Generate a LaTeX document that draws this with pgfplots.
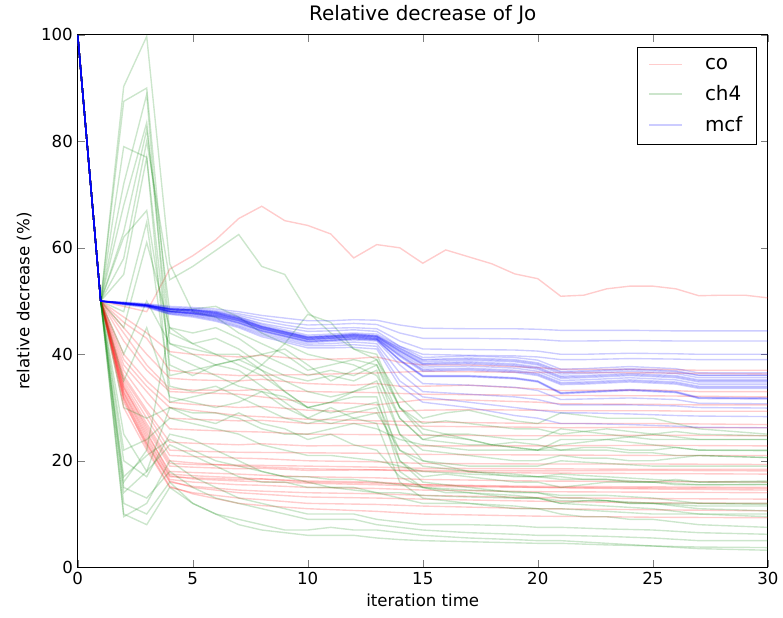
\documentclass[border=0pt]{standalone}
\usepackage{fontspec}
\setmainfont{DejaVu Sans}
\usepackage{pgfplots}
\pgfplotsset{compat=1.18}
\pgfplotsset{
  co/.style={color=red, opacity=0.2, line width=1pt, mark=none},
  ch/.style={color=green!50!black, opacity=0.2, line width=1pt, mark=none},
  mc/.style={color=blue, opacity=0.2, line width=1pt, mark=none},
}
\begin{document}
\begin{tikzpicture}
\begin{axis}[
  scale only axis, width=499pt, height=385pt,
  xmin=0, xmax=30, ymin=0, ymax=100,
  xtick={0,5,...,30}, ytick={0,20,...,100},
  tick align=inside, major tick length=5pt,
  /pgf/number format/assume math mode=true,
  tick label style={font=\fontsize{12}{14}\selectfont},
  title={Relative decrease of Jo},
  title style={font=\fontsize{14.4}{17}\selectfont, yshift=-2pt},
  xlabel={iteration time}, ylabel={relative decrease (\%)},
  label style={font=\fontsize{12}{14}\selectfont},
  axis line style={line width=0.8pt},
  legend style={at={(0.984,0.978)}, anchor=north east, draw=black, line width=0.8pt,
    font=\fontsize{14.4}{17}\selectfont, inner xsep=8pt, inner ysep=6pt, row sep=6pt, column sep=14pt},
  legend cell align=left,
  legend image code/.code={\draw[#1] (0pt,0pt) -- (24pt,0pt);},
]
\coordinate (bl) at (rel axis cs:-0.1126,-0.0935);
\coordinate (tr) at (rel axis cs:1.0173,1.0654);

% co
\addplot[co] coordinates {(0,100)(1,50)(2,49)(3,48)(4,56)(5,58.5)(6,61.5)(7,65.5)(8,67.8)(9,65.1)(10,64.2)(11,62.6)(12,58.1)(13,60.6)(14,60)(15,57.1)(16,59.6)(17,58.3)(18,57)(19,55.1)(20,54.2)(21,50.9)(22,51.1)(23,52.3)(24,52.8)(25,52.8)(26,52.3)(27,51)(28,51.1)(29,51.1)(30,50.6)};
\addlegendentry{co}
\addplot[co,forget plot] coordinates {(0,100)(1,50)(2,47)(3,44)(4,40.5)(5,40)(7,39.5)(8,39.8)(10,39)(12,39.2)(13,39.5)(14,38.5)(15,38)(17,38)(20,37.5)(21,37.2)(25,37.2)(27,37)(30,37)};
\addplot[co,forget plot] coordinates {(0,100)(1,50)(2,45)(3,40)(4,35.5)(5,35.2)(7,35)(8,35.3)(10,34.5)(12,34.2)(13,34.5)(14,34)(15,34)(17,34.2)(20,33.5)(21,33.2)(25,33.3)(27,33)(30,33)};
\addplot[co,forget plot] coordinates {(0,100)(1,50)(2,44)(3,38)(4,33.5)(5,33.3)(7,33.2)(8,33.4)(10,33)(13,32.8)(15,32.5)(20,32.3)(25,32.2)(30,32)};
\addplot[co,forget plot] coordinates {(0,100)(1,50)(2,42.5)(3,37)(4,33)(5,32.8)(7,32.5)(8,32)(10,31)(12,30.8)(13,30.5)(14,31)(15,31.5)(17,31.4)(20,31)(21,30.7)(25,30.6)(27,30.5)(30,30.5)};
\addplot[co,forget plot] coordinates {(0,100)(1,50)(2,40)(3,35)(4,31)(5,30.6)(7,30)(8,30.2)(10,29.5)(12,29.2)(13,29)(14,29.3)(15,29.5)(17,29.6)(20,29.5)(21,29.4)(25,29.4)(27,29.3)(30,29.3)};
\addplot[co,forget plot] coordinates {(0,100)(1,50)(2,38)(3,33)(4,28)(5,27.8)(7,27.5)(8,27.6)(10,27)(12,27)(13,27)(14,26.7)(15,26.5)(17,26.4)(20,26.3)(21,26.2)(25,26.3)(27,26.2)(30,26.2)};
\addplot[co,forget plot] coordinates {(0,100)(1,50)(2,37)(3,31)(4,26)(5,25.8)(7,25.5)(8,25.4)(10,25)(13,24.9)(15,24.8)(20,24.7)(25,24.8)(30,24.7)};
\addplot[co,forget plot] coordinates {(0,100)(1,50)(2,36)(3,29.5)(4,23.5)(5,23.3)(7,23)(8,23.2)(10,22.8)(13,22.9)(15,22.8)(20,22.8)(25,22.9)(30,22.8)};
\addplot[co,forget plot] coordinates {(0,100)(1,50)(2,35.5)(3,29)(4,22)(5,21.8)(7,21.6)(10,21.5)(13,21.4)(15,21.2)(20,21.1)(25,21)(30,21)};
\addplot[co,forget plot] coordinates {(0,100)(1,50)(2,35)(3,28)(4,21)(5,20.8)(7,20.5)(8,20.4)(10,20)(13,19.8)(15,19.5)(20,19.4)(25,19.4)(30,19.3)};
\addplot[co,forget plot] coordinates {(0,100)(1,50)(2,34)(3,26)(4,19)(5,18.8)(7,18.5)(8,18.6)(10,18.2)(13,18.3)(15,18.2)(20,18.1)(25,18.2)(30,18.1)};
\addplot[co,forget plot] coordinates {(0,100)(1,50)(2,33.8)(3,26.5)(4,19.5)(5,19.3)(7,19.2)(10,19)(13,18.8)(15,18.6)(20,18.5)(25,18.4)(30,18.4)};
\addplot[co,forget plot] coordinates {(0,100)(1,50)(2,33)(3,25)(4,18)(5,17.8)(7,17.5)(8,17.3)(10,17)(13,16.8)(15,16.5)(20,16.2)(25,16.1)(30,16)};
\addplot[co,forget plot] coordinates {(0,100)(1,50)(2,32.5)(3,24)(4,17)(5,16.8)(7,16.5)(8,16.6)(10,16)(13,15.8)(15,15.5)(20,15.2)(25,15.1)(30,15)};
\addplot[co,forget plot] coordinates {(0,100)(1,50)(2,32.8)(3,24.5)(4,17.2)(5,16.6)(7,16.2)(10,15.8)(13,15.5)(15,15.2)(20,15)(25,14.9)(30,14.8)};
\addplot[co,forget plot] coordinates {(0,100)(1,50)(2,32)(3,23.5)(4,16.5)(5,16)(7,15.5)(8,15.4)(10,15)(13,14.8)(15,14.5)(20,14.2)(25,14.1)(30,14)};
\addplot[co,forget plot] coordinates {(0,100)(1,50)(2,31)(3,23)(4,16)(5,15.2)(7,14.5)(8,14.3)(10,14)(13,13.8)(15,13.5)(20,13.1)(25,12.9)(30,12.8)};
\addplot[co,forget plot] coordinates {(0,100)(1,50)(2,31.8)(3,23.2)(4,16.2)(5,15)(7,14)(10,13.2)(13,13)(15,12.8)(20,12.4)(25,12.1)(30,12)};
\addplot[co,forget plot] coordinates {(0,100)(1,50)(2,30)(3,22)(4,15)(5,14)(7,13)(8,12.7)(10,12)(13,11.8)(15,11.5)(20,11)(25,10.8)(30,10.6)};
\addplot[co,forget plot] coordinates {(0,100)(1,50)(2,31.5)(3,22.5)(4,15.2)(5,13.8)(7,12)(8,11.6)(10,11)(13,10.5)(15,10)(20,9.6)(25,9.4)(30,9.3)};
\addplot[co,forget plot] coordinates {(0,100)(1,50)(2,33.5)(3,25.5)(4,17.5)(5,17.2)(7,16.8)(10,16.2)(13,16)(15,15.5)(20,15)(25,14.7)(30,14.5)};
\addplot[co,forget plot] coordinates {(0,100)(1,50)(2,34.5)(3,27)(4,20)(5,19.6)(7,19)(10,18.5)(13,18.3)(15,18)(20,17.7)(25,17.6)(30,17.5)};
\addplot[co,forget plot] coordinates {(0,100)(1,50)(2,46)(3,43)(4,37)(5,36.5)(7,36)(10,36.2)(13,36.5)(15,36.8)(20,36.6)(25,36.5)(30,36.3)};
\addplot[co,forget plot] coordinates {(0,100)(1,50)(2,39)(3,34)(4,30)(7,28.5)(10,27.8)(13,27.5)(15,27.3)(20,27)(25,27)(30,26.8)};

% ch4
\addplot[ch] coordinates {(0,100)(1,50)(2,90.3)(3,99.7)(4,57)(5,48)(6,47)(7,44)(8,42)(9,40)(10,37)(11,38)(12,39)(13,38)(14,30)(15,25)(16,24.5)(17,24)(18,23)(19,22.5)(20,22)(21,23)(22,23.5)(23,24)(24,24.5)(25,25)(26,24.5)(27,24)(30,24)};
\addlegendentry{ch4}
\addplot[ch,forget plot] coordinates {(0,100)(1,50)(2,87.5)(3,90)(4,44)(5,42)(6,43)(7,41)(8,38)(9,36)(10,35)(11,36)(12,35)(13,37)(14,25)(15,22)(16,21.5)(17,21)(18,20.5)(19,20)(20,20)(21,21)(22,20.5)(23,20.5)(24,20)(25,20)(26,20.5)(27,21)(30,20.6)};
\addplot[ch,forget plot] coordinates {(0,100)(1,50)(2,72)(3,88.8)(4,36)(5,37)(6,38)(7,39)(8,37)(9,35)(10,33)(11,32)(12,33)(13,34)(14,20)(15,17)(16,17.5)(17,17)(18,16.5)(19,16)(20,16)(21,15)(22,15.5)(23,16)(24,16)(25,16)(26,16.5)(27,16)(30,16.2)};
\addplot[ch,forget plot] coordinates {(0,100)(1,50)(2,79)(3,77)(4,31)(5,32)(6,33)(7,35)(8,38)(9,42)(10,47.5)(11,46)(12,41)(13,39)(14,30)(15,27)(16,27.5)(17,27)(18,26.5)(19,26)(20,26)(21,25)(22,25.5)(23,26)(24,25.5)(25,25)(26,25.5)(27,25)(30,24.7)};
\addplot[ch,forget plot] coordinates {(0,100)(1,50)(2,68)(3,83.5)(4,42)(5,41)(6,40)(7,40)(8,37)(9,33)(10,30)(11,31)(12,32)(13,32)(14,18)(15,15)(16,14.5)(17,14)(18,13.5)(19,13)(20,13)(21,12)(22,12.5)(23,12.5)(24,12)(25,12)(26,12)(27,12)(30,11.8)};
\addplot[ch,forget plot] coordinates {(0,100)(1,50)(2,63)(3,82.2)(4,48)(5,48.5)(6,49)(7,47)(8,44)(9,42)(10,40)(11,39)(12,38)(13,36)(14,28)(15,24)(16,23.5)(17,23)(18,23)(19,23.5)(20,23)(21,22)(22,22.5)(23,22.5)(24,22)(25,22)(26,22.5)(27,22)(30,21.9)};
\addplot[ch,forget plot] coordinates {(0,100)(1,50)(2,62)(3,67)(4,40)(5,38)(6,36)(7,34)(8,33)(9,32)(10,30)(11,29)(12,30)(13,31)(14,22)(15,19)(16,18.5)(17,18)(18,17.5)(19,17)(20,17)(21,17)(22,16.5)(23,16.5)(24,16)(25,16)(26,15.5)(27,15.5)(30,15.6)};
\addplot[ch,forget plot] coordinates {(0,100)(1,50)(2,48)(3,64.8)(4,34)(5,33)(6,34)(7,32)(8,30)(9,28)(10,27)(11,28)(12,29)(13,30)(14,20)(15,16)(16,15.5)(17,15)(18,14.5)(19,14)(20,14)(21,13)(22,13)(23,12.5)(24,12)(25,12)(26,11.5)(27,11)(30,10.6)};
\addplot[ch,forget plot] coordinates {(0,100)(1,50)(2,45)(3,61)(4,45)(5,44)(6,45)(7,43)(8,40)(9,41)(10,38)(11,35)(12,37)(13,39)(14,32)(15,28)(16,29)(17,29.5)(18,28.5)(19,27.5)(20,27)(21,29)(22,28.5)(23,28)(24,28)(25,28)(26,27)(27,26)(30,25)};
\addplot[ch,forget plot] coordinates {(0,100)(1,50)(2,55)(3,77)(4,38)(5,36)(6,38)(7,37)(8,34)(9,31)(10,28)(11,30)(12,28)(13,27)(14,16)(15,13)(16,12.5)(17,12)(18,11.5)(19,11)(20,11)(21,10)(22,9.5)(23,9.5)(24,9)(25,9)(26,8.5)(27,8)(30,7.5)};
\addplot[ch,forget plot] coordinates {(0,100)(1,50)(2,58)(3,80)(4,54)(5,56.5)(6,59.5)(7,62.5)(8,56.5)(9,55)(10,48)(11,44)(12,41)(13,40)(14,30)(15,26)(16,25)(17,24)(18,23)(19,22.5)(20,22)(21,22)(22,22)(23,22)(24,21.5)(25,21.5)(26,21)(27,21)(30,20.6)};
\addplot[ch,forget plot] coordinates {(0,100)(1,50)(2,20)(3,17)(4,25)(5,24)(6,22)(7,20)(8,18)(9,17)(10,16)(11,15)(12,15)(13,14)(14,13)(15,12)(17,12)(19,11.5)(20,11)(21,11)(23,10.5)(25,10)(27,10)(30,10)};
\addplot[ch,forget plot] coordinates {(0,100)(1,50)(2,15)(3,13)(4,18)(5,15)(6,13)(7,12)(8,11)(9,10)(10,9)(11,9)(12,9)(13,8)(14,7.5)(15,7)(17,6.5)(19,6.2)(20,6)(21,6)(23,5.8)(25,5.5)(27,5)(30,5)};
\addplot[ch,forget plot] coordinates {(0,100)(1,50)(2,12)(3,10)(4,16)(5,12)(6,10)(7,9)(8,8)(9,7)(10,7)(11,7.5)(12,7)(13,7)(14,6.5)(15,6)(17,5.5)(19,5.2)(20,5)(21,5)(23,4.5)(25,4)(27,3.5)(30,3.2)};
\addplot[ch,forget plot] coordinates {(0,100)(1,50)(2,9.5)(3,12)(4,20)(5,17)(6,15)(7,13)(8,12)(9,11)(10,10)(11,10)(12,10)(13,9)(14,8.5)(15,8)(17,8)(19,7.8)(20,7.5)(21,7.5)(23,7.2)(25,7)(27,6.5)(30,6.2)};
\addplot[ch,forget plot] coordinates {(0,100)(1,50)(2,17)(3,21)(4,24)(5,22)(6,20)(7,19)(8,18)(9,17)(10,17)(11,16.5)(12,16.5)(13,16)(14,15.5)(15,15)(17,14.5)(19,14.2)(20,14)(21,13.5)(23,13.5)(25,13)(27,12)(30,12)};
\addplot[ch,forget plot] coordinates {(0,100)(1,50)(2,22)(3,24)(4,28)(5,27)(6,26)(7,25)(8,23)(9,22)(10,21)(11,21)(12,20.5)(13,20)(14,19)(15,18)(17,17.5)(19,17.2)(20,17)(21,16.5)(23,16.5)(25,16)(27,15.5)(30,15.5)};
\addplot[ch,forget plot] coordinates {(0,100)(1,50)(2,10)(3,8)(4,15)(5,12)(6,10)(7,8)(8,7)(9,6.5)(10,6)(11,6)(12,6)(13,5.5)(14,5.2)(15,5)(17,4.8)(19,4.6)(20,4.5)(21,4.5)(23,4.2)(25,4)(27,3.8)(30,3.7)};
\addplot[ch,forget plot] coordinates {(0,100)(1,50)(2,14)(3,18)(4,23)(5,21)(6,19)(7,17)(8,16)(9,16)(10,15)(11,15)(12,14.5)(13,14)(14,14)(15,13.5)(17,13.2)(19,13)(20,13)(21,12.5)(23,12.5)(25,12)(27,11.5)(30,11.5)};
\addplot[ch,forget plot] coordinates {(0,100)(1,50)(2,35)(3,45)(4,32)(5,31)(6,30)(7,31)(8,33)(9,30)(10,28)(11,27)(12,28)(13,29)(14,22)(15,20)(16,19.5)(17,19)(18,19)(19,19)(20,19)(21,20)(23,19.5)(25,19)(27,19)(30,19)};
\addplot[ch,forget plot] coordinates {(0,100)(1,50)(2,30)(3,28)(4,30)(5,29)(6,29)(7,28)(8,26)(9,25)(10,25)(11,26)(12,27)(13,26)(14,24)(15,23)(16,22.5)(17,22)(18,22)(19,22)(20,22)(21,24)(22,24)(23,24)(24,23.5)(25,23)(27,22)(30,22)};
\addplot[ch,forget plot] coordinates {(0,100)(1,50)(2,40)(3,50)(4,42)(5,40)(6,38)(7,39)(8,40)(9,38)(10,36)(11,37)(12,36)(13,38)(14,28)(15,24)(16,25)(17,25)(18,24.5)(19,24)(20,24)(21,26)(22,25.5)(23,25)(24,24.5)(25,24)(27,24)(30,24)};
\addplot[ch,forget plot] coordinates {(0,100)(1,50)(2,25)(3,18)(4,30)(5,28)(6,27)(7,29)(8,27)(9,26)(10,24)(11,25)(12,23)(13,22)(14,17)(15,15)(16,14)(17,14)(19,13.5)(20,13)(21,12)(23,11.5)(25,11)(27,10)(30,9.5)};
\addplot[ch,forget plot] coordinates {(0,100)(1,50)(2,16)(3,22)(4,45)(5,42)(6,40)(7,38)(8,36)(9,33)(10,30)(11,31)(12,33)(13,35)(14,25)(15,20)(16,19)(17,18)(19,17.5)(20,17)(21,17.5)(23,17)(25,16.5)(27,16)(30,16)};

% mcf
\addplot[mc] coordinates {(0,100)(1,50)(2,49.8)(3,49.5)(4,49)(5,48.8)(6,48.5)(7,48)(8,47.3)(9,46.8)(10,46.3)(11,46.3)(12,46.5)(13,46.4)(14,45.5)(15,44.9)(17,44.8)(19,44.8)(20,44.7)(21,44.5)(22,44.5)(24,44.5)(26,44.4)(27,44.4)(30,44.4)};
\addlegendentry{mcf}
\addplot[mc,forget plot] coordinates {(0,100)(1,50)(2,49.7)(3,49.4)(4,48.8)(5,48.6)(6,48.2)(7,47.6)(8,46.8)(9,46)(10,45.5)(11,45.6)(12,45.8)(13,45.6)(14,44)(15,43)(17,43)(19,42.9)(20,42.8)(21,42.5)(22,42.5)(24,42.6)(26,42.5)(27,42.5)(30,42.5)};
\addplot[mc,forget plot] coordinates {(0,100)(1,50)(2,49.7)(3,49.3)(4,48.6)(5,48.4)(6,48)(7,47.3)(8,46.3)(9,45.5)(10,44.8)(11,44.9)(12,45)(13,44.8)(14,42.5)(15,41)(17,40.9)(19,40.8)(20,40.6)(21,40)(22,40)(24,40.2)(26,40.1)(27,40)(30,40)};
\addplot[mc,forget plot] coordinates {(0,100)(1,50)(2,49.6)(3,49.3)(4,48.5)(5,48.3)(6,47.9)(7,47)(8,45.8)(9,45)(10,44.3)(11,44.4)(12,44.6)(13,44.3)(14,41.5)(15,40)(17,39.8)(19,39.7)(20,39.5)(21,39)(22,39)(24,39.2)(26,39.1)(27,39)(30,39)};
\addplot[mc,forget plot] coordinates {(0,100)(1,50)(2,49.7)(3,49.3)(4,48.6)(5,48.4)(6,48)(7,47)(8,45.6)(9,44.6)(10,43.6)(11,43.8)(12,44)(13,43.8)(14,41.5)(15,39.4)(17,39.7)(19,39.4)(20,38.9)(21,37.2)(22,37.3)(24,37.7)(26,37.3)(27,36.5)(30,36.5)};
\addplot[mc,forget plot] coordinates {(0,100)(1,50)(2,49.6)(3,49.2)(4,48.5)(5,48.3)(6,47.8)(7,46.8)(8,45.3)(9,44.3)(10,43.3)(11,43.5)(12,43.8)(13,43.5)(14,41.2)(15,39)(17,39.3)(19,39)(20,38.4)(21,36.8)(22,36.9)(24,37.3)(26,36.9)(27,36.1)(30,36.1)};
\addplot[mc,forget plot] coordinates {(0,100)(1,50)(2,49.6)(3,49.2)(4,48.5)(5,48.3)(6,47.8)(7,46.8)(8,45.3)(9,44.3)(10,43.3)(11,43.5)(12,43.8)(13,43.5)(14,41.1)(15,38.9)(17,39.1)(19,38.8)(20,38.2)(21,36.6)(22,36.7)(24,37.1)(26,36.7)(27,36)(30,36)};
\addplot[mc,forget plot] coordinates {(0,100)(1,50)(2,49.6)(3,49.2)(4,48.5)(5,48.2)(6,47.7)(7,46.7)(8,45.2)(9,44.2)(10,43.2)(11,43.4)(12,43.7)(13,43.4)(14,40.9)(15,38.6)(17,38.9)(19,38.6)(20,38)(21,36.3)(22,36.4)(24,36.8)(26,36.4)(27,35.6)(30,35.6)};
\addplot[mc,forget plot] coordinates {(0,100)(1,50)(2,49.6)(3,49.2)(4,48.4)(5,48.1)(6,47.6)(7,46.6)(8,45.1)(9,44.1)(10,43.1)(11,43.3)(12,43.6)(13,43.3)(14,40.7)(15,38.3)(17,38.6)(19,38.2)(20,37.6)(21,35.9)(22,36)(24,36.4)(26,36)(27,35.2)(30,35.2)};
\addplot[mc,forget plot] coordinates {(0,100)(1,50)(2,49.6)(3,49.2)(4,48.4)(5,48.1)(6,47.6)(7,46.6)(8,45.1)(9,44.1)(10,43.1)(11,43.3)(12,43.5)(13,43.3)(14,40.6)(15,38.2)(17,38.4)(19,38)(20,37.4)(21,35.7)(22,35.8)(24,36.2)(26,35.8)(27,35)(30,35)};
\addplot[mc,forget plot] coordinates {(0,100)(1,50)(2,49.6)(3,49.2)(4,48.3)(5,48)(6,47.5)(7,46.5)(8,45)(9,44)(10,43)(11,43.2)(12,43.5)(13,43.2)(14,40.5)(15,38)(17,38.2)(19,37.8)(20,37.2)(21,35.5)(22,35.6)(24,36)(26,35.6)(27,34.8)(30,34.8)};
\addplot[mc,forget plot] coordinates {(0,100)(1,50)(2,49.6)(3,49.2)(4,48.2)(5,47.9)(6,47.4)(7,46.4)(8,44.9)(9,43.9)(10,42.9)(11,43.1)(12,43.4)(13,43.1)(14,40.2)(15,37.6)(17,37.8)(19,37.4)(20,36.8)(21,35.1)(22,35.2)(24,35.6)(26,35.2)(27,34.4)(30,34.4)};
\addplot[mc,forget plot] coordinates {(0,100)(1,50)(2,49.5)(3,49.1)(4,48.1)(5,47.8)(6,47.3)(7,46.3)(8,44.8)(9,43.8)(10,42.8)(11,43)(12,43.3)(13,43)(14,39.9)(15,37.2)(17,37.4)(19,37)(20,36.4)(21,34.7)(22,34.8)(24,35.2)(26,34.8)(27,34)(30,34)};
\addplot[mc,forget plot] coordinates {(0,100)(1,50)(2,49.5)(3,49.1)(4,48.1)(5,47.8)(6,47.3)(7,46.3)(8,44.8)(9,43.8)(10,42.8)(11,43)(12,43.2)(13,42.9)(14,39.8)(15,37)(17,37.2)(19,36.8)(20,36.2)(21,34.5)(22,34.6)(24,35)(26,34.6)(27,33.8)(30,33.8)};
\addplot[mc,forget plot] coordinates {(0,100)(1,50)(2,49.5)(3,49.1)(4,48)(5,47.7)(6,47.2)(7,46.2)(8,44.7)(9,43.7)(10,42.7)(11,42.9)(12,43.2)(13,42.9)(14,39.6)(15,36.8)(17,37)(19,36.6)(20,36)(21,34.3)(22,34.4)(24,34.8)(26,34.4)(27,33.6)(30,33.6)};
\addplot[mc,forget plot] coordinates {(0,100)(1,50)(2,49.5)(3,49.1)(4,48)(5,47.7)(6,47.1)(7,46)(8,44.5)(9,43.5)(10,42.5)(11,42.7)(12,43)(13,42.8)(14,39)(15,36)(17,36)(19,35.6)(20,35)(21,32.8)(22,33)(24,33.4)(26,33)(27,31.9)(30,31.8)};
\addplot[mc,forget plot] coordinates {(0,100)(1,50)(2,49.5)(3,49.1)(4,48)(5,47.6)(6,47)(7,45.9)(8,44.4)(9,43.4)(10,42.4)(11,42.6)(12,42.9)(13,42.7)(14,38.8)(15,35.8)(17,35.8)(19,35.4)(20,34.8)(21,32.6)(22,32.8)(24,33.2)(26,32.8)(27,31.7)(30,31.6)};
\addplot[mc,forget plot] coordinates {(0,100)(1,50)(2,49.5)(3,49.1)(4,48)(5,47.6)(6,47)(7,45.9)(8,44.4)(9,43.4)(10,42.4)(11,42.6)(12,42.9)(13,42.7)(14,38.9)(15,35.9)(17,35.9)(19,35.5)(20,34.9)(21,32.7)(22,32.9)(24,33.3)(26,32.9)(27,31.8)(30,31.7)};
\addplot[mc,forget plot] coordinates {(0,100)(1,50)(2,49.5)(3,49)(4,47.8)(5,47.5)(6,46.8)(7,45.7)(8,44.2)(9,43.2)(10,42.2)(11,42.4)(12,42.7)(13,42.5)(14,38)(15,34.5)(17,34.2)(19,33.8)(20,33.2)(21,31.5)(22,31.6)(24,31.8)(26,31.5)(27,30.8)(30,30.7)};
\addplot[mc,forget plot] coordinates {(0,100)(1,50)(2,49.4)(3,49)(4,47.7)(5,47.3)(6,46.6)(7,45.4)(8,43.9)(9,42.9)(10,41.9)(11,42)(12,42.3)(13,42)(14,36.5)(15,33)(17,32.5)(19,32)(20,31.5)(21,30.5)(22,30.5)(24,30.5)(26,30.3)(27,30)(30,29.9)};
\addplot[mc,forget plot] coordinates {(0,100)(1,50)(2,49.4)(3,48.9)(4,47.6)(5,47.2)(6,46.4)(7,45.2)(8,43.6)(9,42.6)(10,41.6)(11,41.6)(12,41.8)(13,41.5)(14,35)(15,32)(17,31)(19,30)(20,29.5)(21,29)(22,29)(24,28.8)(26,28.5)(27,28.4)(30,28.3)};
\addplot[mc,forget plot] coordinates {(0,100)(1,50)(2,49.3)(3,48.8)(4,47.5)(5,47)(6,46.2)(7,45)(8,43.3)(9,42.3)(10,41.2)(11,41.2)(12,41.3)(13,41)(14,34)(15,31)(17,30)(19,28.5)(20,28)(21,27)(22,27)(24,26.8)(26,26.5)(27,26.3)(30,26.2)};
\end{axis}
\path (bl) rectangle (tr);
\end{tikzpicture}
\end{document}
